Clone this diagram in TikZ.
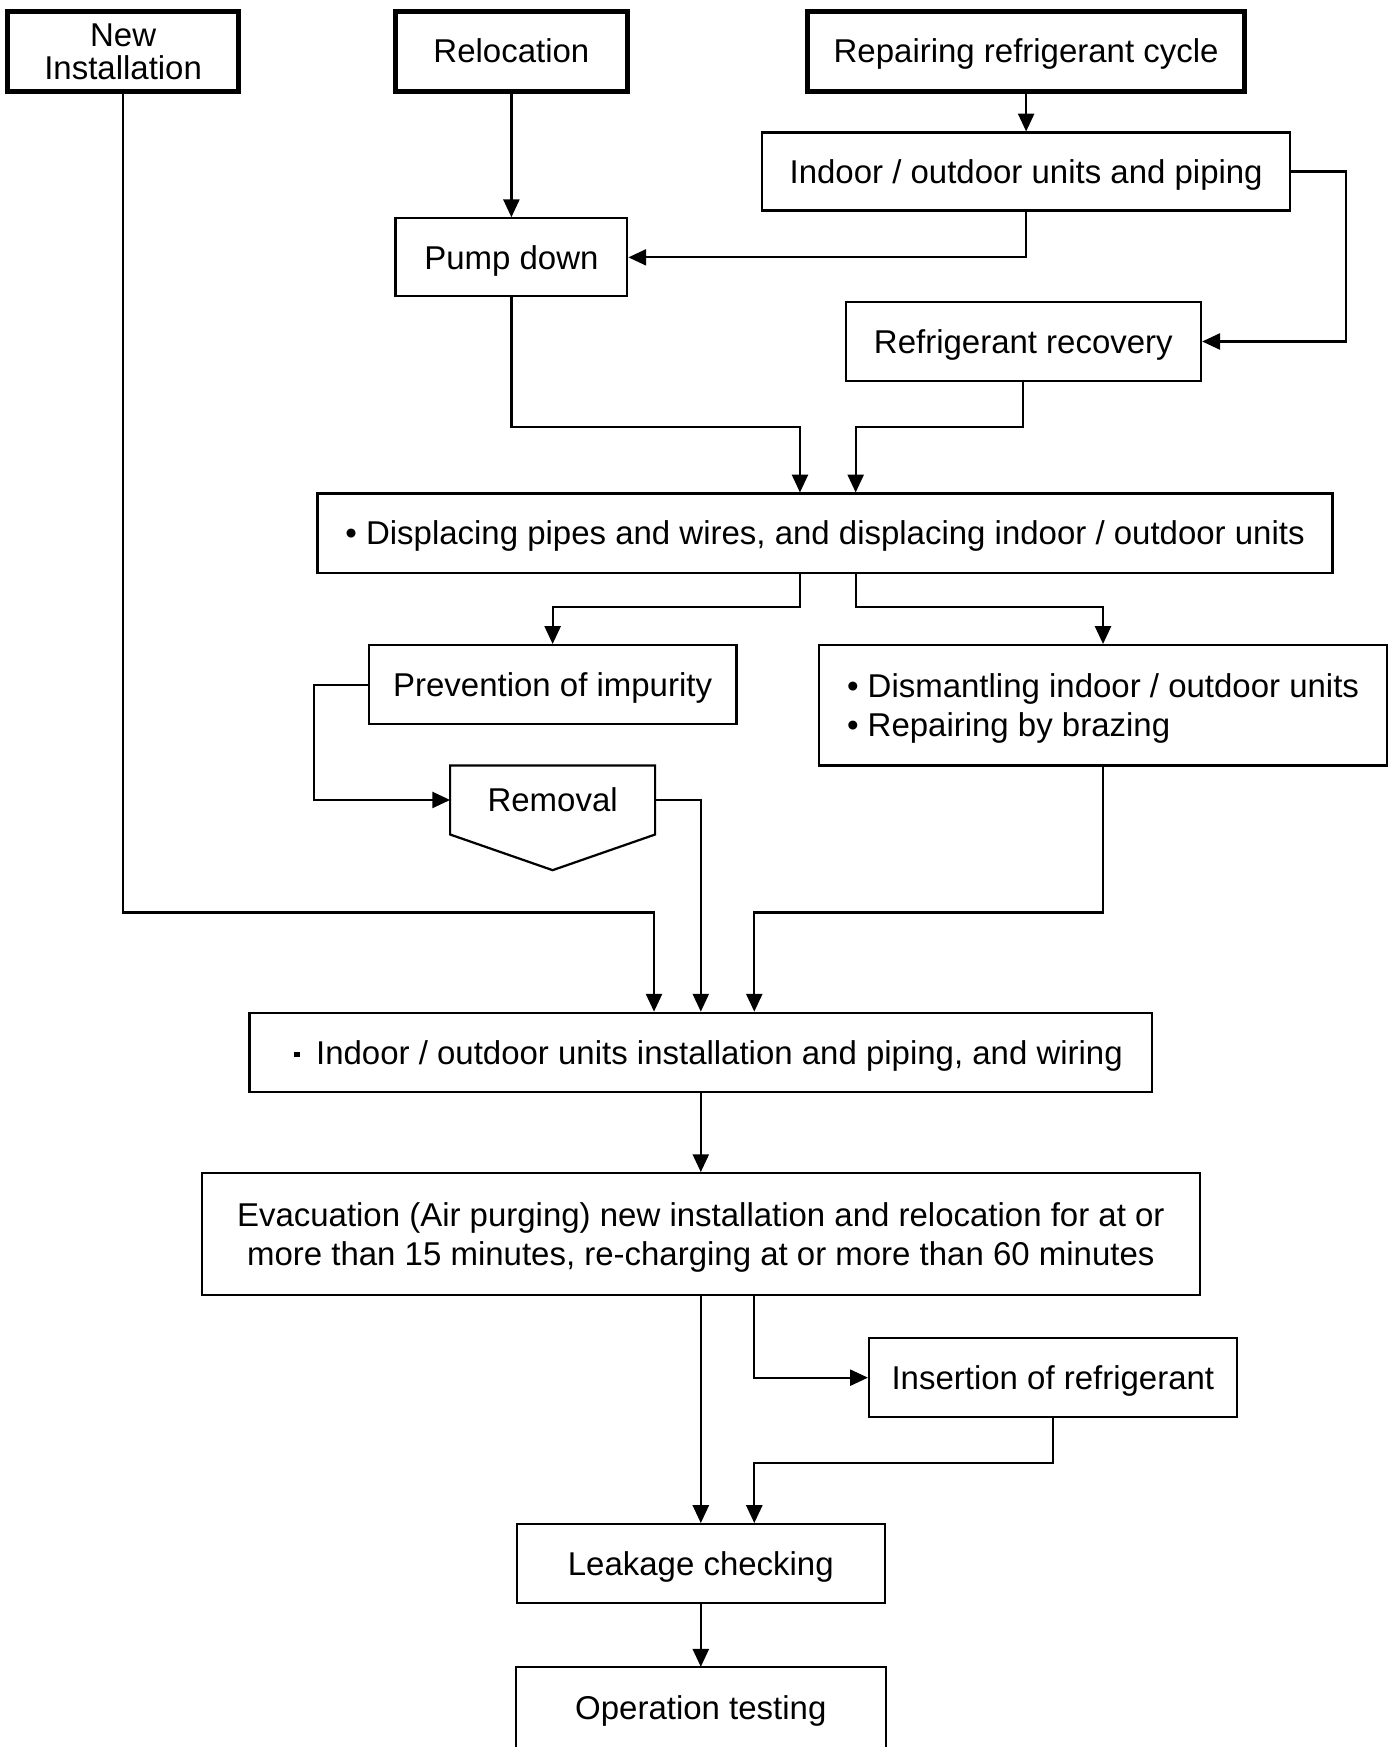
\documentclass[tikz,border=0pt]{standalone}
\usepackage{fontspec}
\setmainfont{Liberation Sans}
\usetikzlibrary{arrows.meta,calc}
\begin{document}
\begin{tikzpicture}[x=0.5pt,y=-0.5pt,
  box/.style={draw, line width=1pt, inner sep=0pt, align=center, text height=10.5pt, text depth=0pt, font=\fontsize{14.8}{17.5}\selectfont},
  twoline/.style={text height=28pt, text depth=0pt},
  thickbox/.style={box, line width=2.3pt},
  nobox/.style={box, draw=none},
  arr/.style={line width=1pt, -{Triangle[length=8pt,width=7.2pt]}},
  ln/.style={line width=1pt}]
\clip (0,0) rectangle (1254,1568);
\fill[white] (0,0) rectangle (1254,1568);
% top row
\node[thickbox, minimum width=103.5pt, minimum height=36pt, font=\fontsize{14.8}{14.5}\selectfont, text height=25pt, text depth=0pt] (newinst) at (110.5,46) {New\\Installation};
\node[thickbox, minimum width=104pt, minimum height=36pt] (reloc) at (459,46) {Relocation};
\node[thickbox, minimum width=196pt, minimum height=36pt] (repair) at (921,46) {Repairing refrigerant cycle};
\node[box, minimum width=237pt, minimum height=35pt] (indoor) at (921,154) {Indoor / outdoor units and piping};
\node[box, minimum width=104pt, minimum height=35pt] (pump) at (459,231) {Pump down};
\node[box, minimum width=159.5pt, minimum height=35.5pt] (recov) at (918.5,306.5) {Refrigerant recovery};
\node[box, minimum width=455.5pt, minimum height=35.5pt] (displ) at (740.5,478.5) {• Displacing pipes and wires, and displacing indoor / outdoor units};
\node[box, minimum width=165pt, minimum height=35.5pt] (prev) at (496,614.5) {Prevention of impurity};
\node[box, twoline, align=left, minimum width=255pt, minimum height=54pt] (disman) at (990,633) {• Dismantling indoor / outdoor units\\• Repairing by brazing};
\node[nobox, minimum width=91pt, minimum height=30pt] (removal) at (496,718) {Removal};
\draw[ln] (removal.north west) -- (removal.north east) -- (removal.south east) -- ($(removal.south)+(0,32)$) -- (removal.south west) -- cycle;
\node[box, minimum width=405pt, minimum height=35.5pt] (inst) at (629,944.5) {\hspace*{7pt}\raisebox{0.2em}{\rule{0.16em}{0.16em}}\hspace{0.5em}Indoor / outdoor units installation and piping, and wiring};
\node[box, twoline, minimum width=448pt, minimum height=54.5pt] (evac) at (629,1107.5) {Evacuation (Air purging) new installation and relocation for at or\\more than 15 minutes, re-charging at or more than 60 minutes};
\node[box, minimum width=165pt, minimum height=35.5pt] (insert) at (945,1236.5) {Insertion of refrigerant};
\node[box, minimum width=165pt, minimum height=35.5pt] (leak) at (629,1403.5) {Leakage checking};
\node[nobox, minimum width=165pt, minimum height=35.5pt] (oper) at (629,1532.5) {Operation testing};
\draw[ln] ($(oper.south west)+(0,30)$) -- (oper.north west) -- (oper.north east) -- ($(oper.south east)+(0,30)$);
% connectors
\draw[arr] (newinst.south) |- (587,819) -- (587,0 |- inst.north);
\draw[arr] (reloc) -- (pump);
\draw[arr] (repair) -- (indoor);
\draw[arr] (indoor.south) |- (pump.east);
\draw[arr] (indoor.east) -- ++(49,0) |- (recov.east);
\draw[arr] (pump.south) |- (718,383) -- (718,0 |- displ.north);
\draw[arr] (recov.south) |- (768,383) -- (768,0 |- displ.north);
\draw[arr] (718,0 |- displ.south) |- (496,545) -- (prev.north);
\draw[arr] (768,0 |- displ.south) |- (990,545) -- (disman.north);
\draw[arr] (prev.west) -- ++(-48,0) |- (removal.west);
\draw[arr] (removal.east) -| (inst.north);
\draw[arr] (disman.south) |- (677,819) -- (677,0 |- inst.north);
\draw[arr] (inst) -- (evac);
\draw[arr] (evac) -- (leak);
\draw[arr] (677,0 |- evac.south) |- (insert.west);
\draw[arr] (insert.south) |- (677,1313) -- (677,0 |- leak.north);
\draw[arr] (leak) -- (oper);
\end{tikzpicture}
\end{document}
